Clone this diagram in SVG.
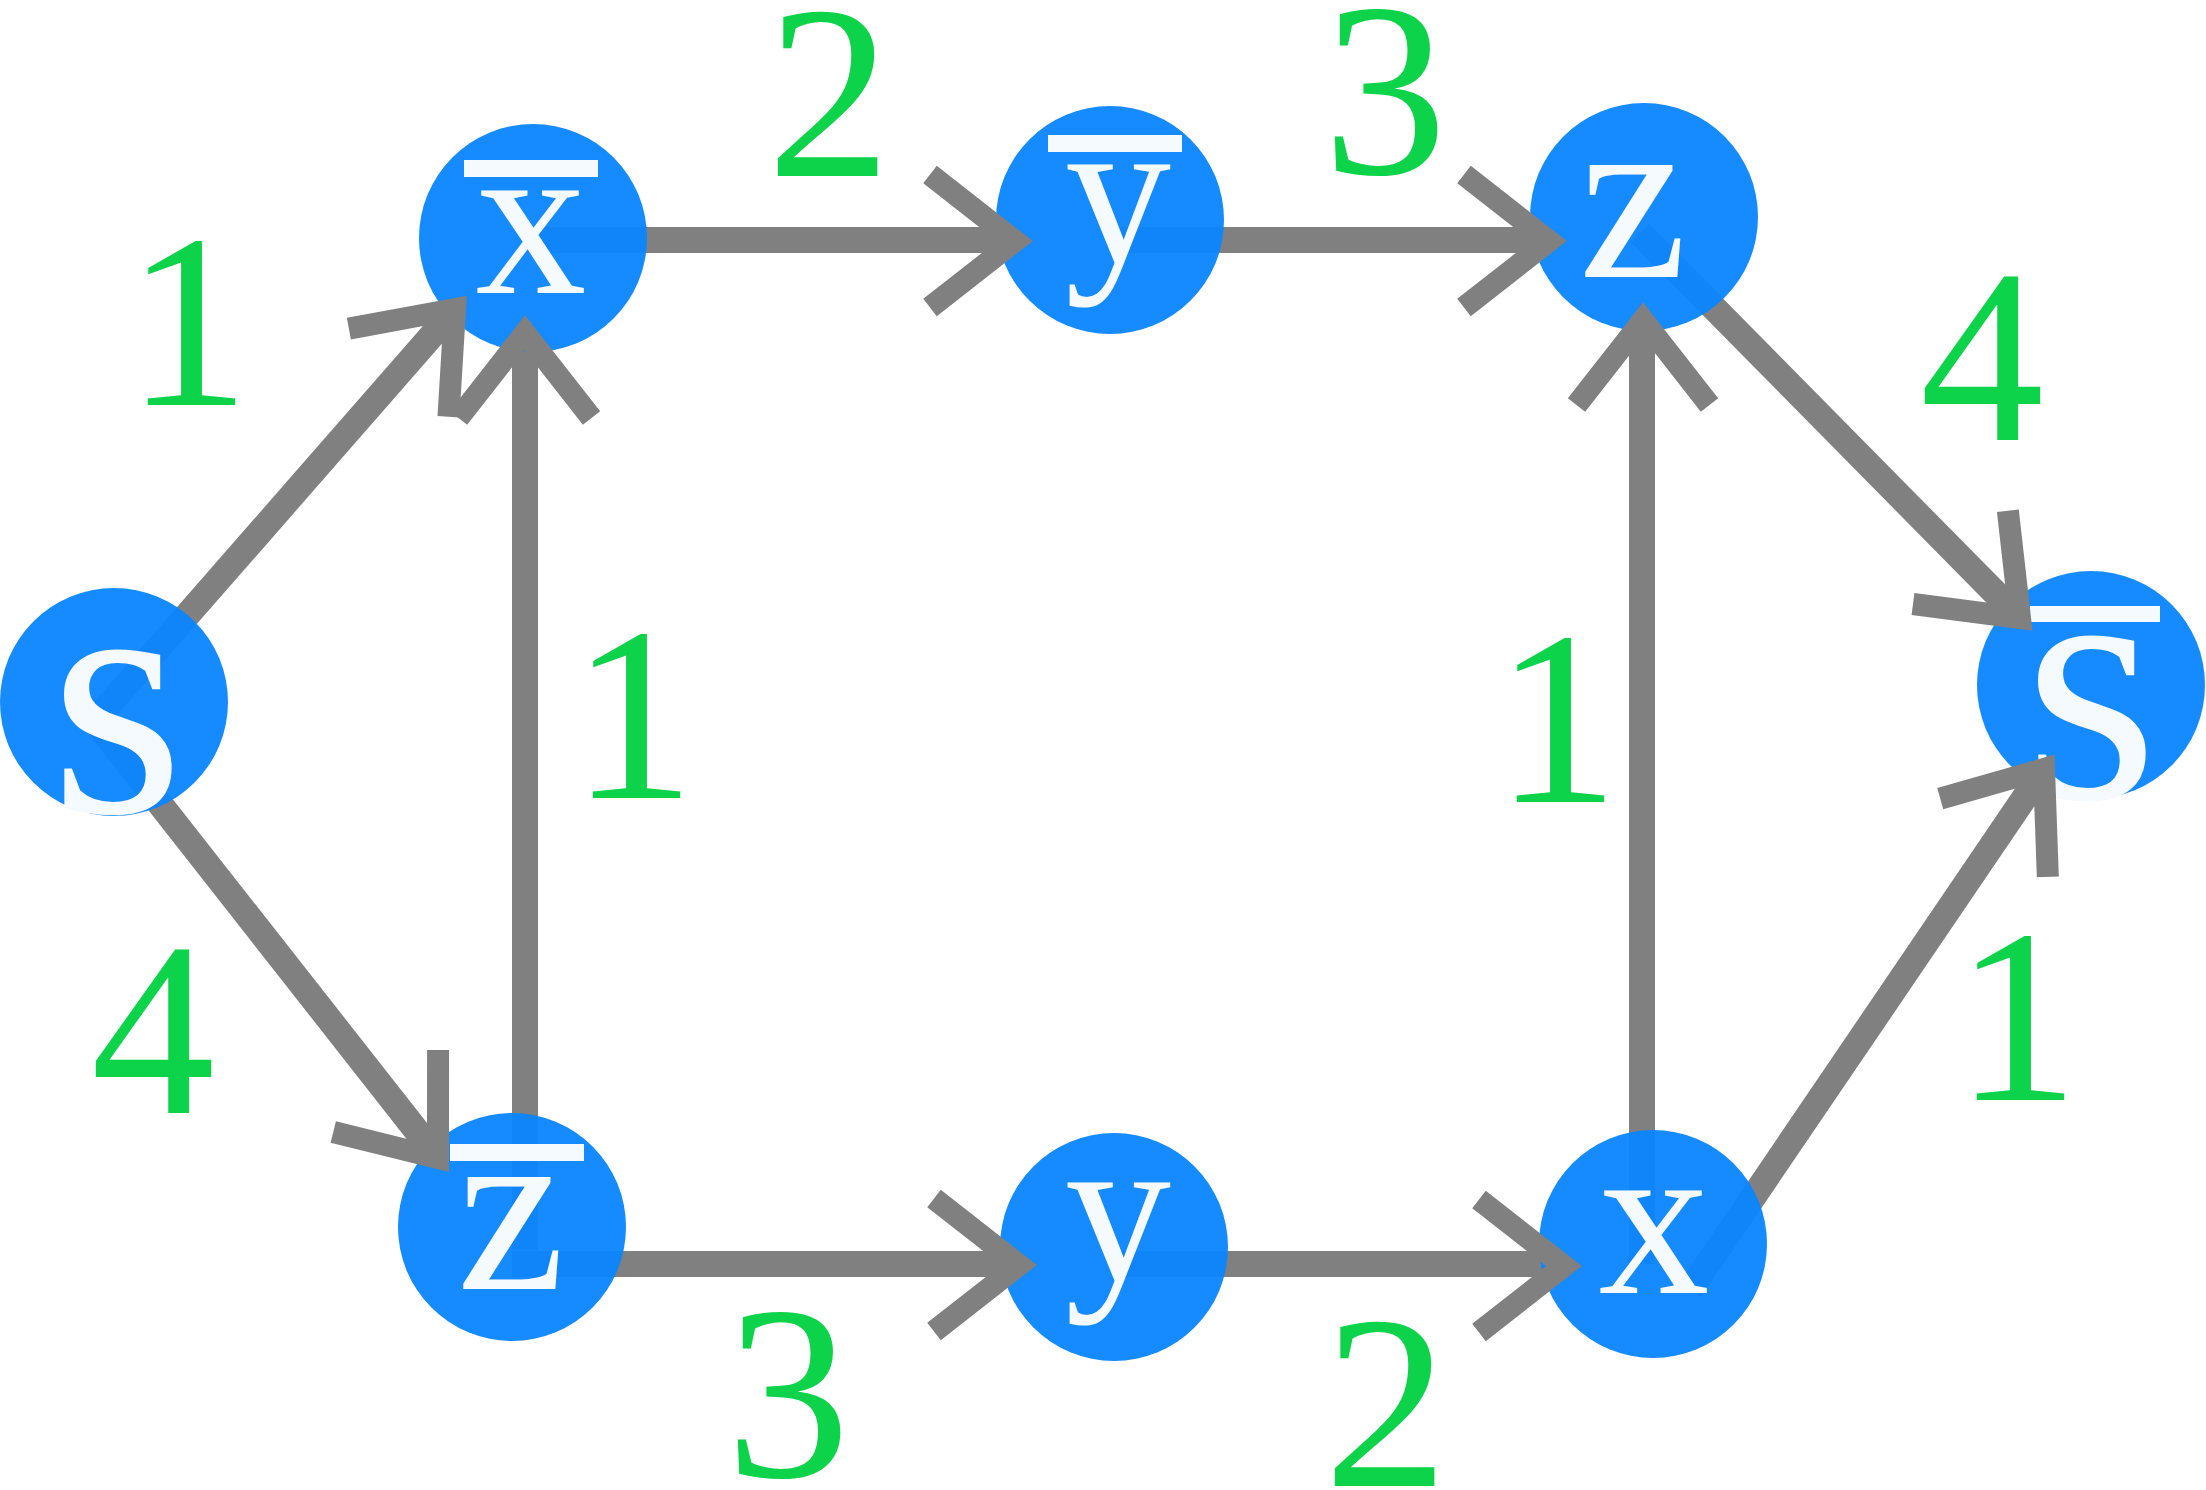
<svg xmlns="http://www.w3.org/2000/svg" xmlns:xlink="http://www.w3.org/1999/xlink" width="2206" height="1490" viewBox="0 0 2206 1490">
<style>
.edge{stroke:#808080;stroke-width:26;fill:none;stroke-linecap:butt}
.head{stroke:#808080;stroke-width:22;fill:none;stroke-linecap:butt;stroke-linejoin:miter;stroke-miterlimit:10}
.node{fill:#0a84ff;fill-opacity:0.95}
.bar{fill:#f5faff}
.lab{fill:#f5faff;text-anchor:middle}
.w{fill:#0dd34a;text-anchor:middle;font-size:248px}
</style>
<defs>
<path id="ah" class="head" d="M-85,-66.5 L0,0 L-85,66.5"/>
</defs>
<rect width="2206" height="1490" fill="#ffffff"/>
<g id="connectors">
<line class="edge" x1="100" y1="715" x2="455" y2="309"/>
<line class="edge" x1="80" y1="702" x2="438" y2="1158"/>
<line class="edge" x1="525" y1="1250" x2="525" y2="333"/>
<line class="edge" x1="533" y1="240" x2="1015" y2="240"/>
<line class="edge" x1="1110" y1="240" x2="1549" y2="240"/>
<line class="edge" x1="1640" y1="233" x2="2020" y2="618"/>
<line class="edge" x1="1642" y1="1264" x2="1642" y2="320"/>
<line class="edge" x1="1690" y1="1290" x2="2044" y2="769"/>
<line class="edge" x1="512" y1="1264" x2="1019" y2="1264"/>
<line class="edge" x1="1114" y1="1264" x2="1564" y2="1264"/>
</g>
<g font-family="Liberation Serif, Times New Roman, Tinos, serif">
<g id="node-s">
<circle class="node" cx="114" cy="702" r="114"/>
<text class="lab" x="117" y="812" font-size="345">s</text>
</g>
<g id="node-xbar">
<circle class="node" cx="533" cy="238" r="114"/>
<rect class="bar" x="464" y="160" width="134" height="17"/>
<text class="lab" x="531" y="293" font-size="222">x</text>
</g>
<g id="node-ybar">
<circle class="node" cx="1110" cy="220" r="114"/>
<rect class="bar" x="1048" y="135" width="134" height="17"/>
<text class="lab" x="1118" y="262" font-size="212">y</text>
</g>
<g id="node-z">
<circle class="node" cx="1644" cy="217" r="114"/>
<text class="lab" x="1633" y="277" font-size="244">z</text>
</g>
<g id="node-sbar">
<circle class="node" cx="2091" cy="685" r="114"/>
<rect class="bar" x="2030" y="606" width="130" height="16"/>
<text class="lab" x="2091" y="798" font-size="345">s</text>
</g>
<g id="node-zbar">
<circle class="node" cx="512" cy="1227" r="114"/>
<rect class="bar" x="450" y="1144" width="134" height="17"/>
<text class="lab" x="511" y="1289" font-size="244">z</text>
</g>
<g id="node-y">
<circle class="node" cx="1114" cy="1247" r="114"/>
<text class="lab" x="1118" y="1280" font-size="212">y</text>
</g>
<g id="node-x">
<circle class="node" cx="1653" cy="1244" r="114"/>
<text class="lab" x="1654" y="1293" font-size="222">x</text>
</g>
</g>
<g id="arrowheads">
<use xlink:href="#ah" transform="translate(455,309) rotate(-48.5)"/>
<use xlink:href="#ah" transform="translate(438,1158) rotate(52)"/>
<use xlink:href="#ah" transform="translate(525,333) rotate(-90)"/>
<use xlink:href="#ah" transform="translate(1015,241) rotate(0)"/>
<use xlink:href="#ah" transform="translate(1549,241) rotate(0)"/>
<use xlink:href="#ah" transform="translate(2020,618) rotate(45.5)"/>
<use xlink:href="#ah" transform="translate(1643,320) rotate(-90)"/>
<use xlink:href="#ah" transform="translate(2044,769) rotate(-54)"/>
<use xlink:href="#ah" transform="translate(1019,1265) rotate(0)"/>
<use xlink:href="#ah" transform="translate(1564,1266) rotate(0)"/>
</g>
<g id="weights" font-family="Liberation Serif, Times New Roman, Tinos, serif">
<text class="w" x="188" y="405">1</text>
<text class="w" x="153" y="1113">4</text>
<text class="w" x="633" y="798">1</text>
<text class="w" x="829" y="176">2</text>
<text class="w" x="1385" y="174">3</text>
<text class="w" x="1982" y="440">4</text>
<text class="w" x="1557" y="802">1</text>
<text class="w" x="2017" y="1100">1</text>
<text class="w" x="788" y="1477">3</text>
<text class="w" x="1386" y="1486">2</text>
</g>
</svg>
